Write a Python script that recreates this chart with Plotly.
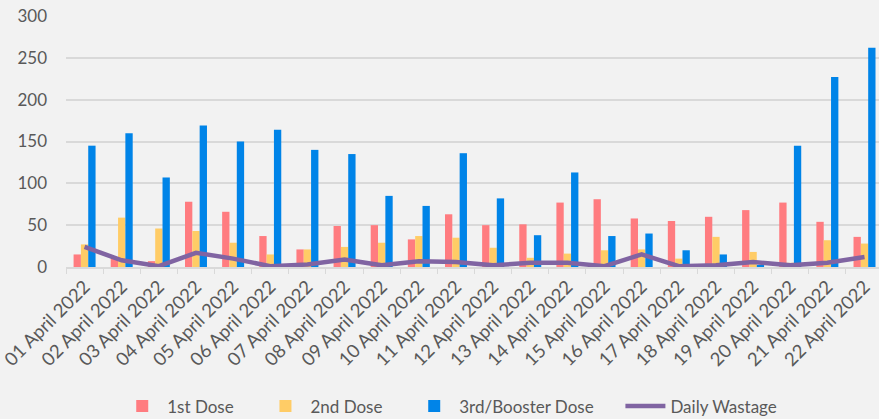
import plotly.graph_objects as go

dates = ["01 April 2022", "02 April 2022", "03 April 2022", "04 April 2022", "05 April 2022",
         "06 April 2022", "07 April 2022", "08 April 2022", "09 April 2022", "10 April 2022",
         "11 April 2022", "12 April 2022", "13 April 2022", "14 April 2022", "15 April 2022",
         "16 April 2022", "17 April 2022", "18 April 2022", "19 April 2022", "20 April 2022",
         "21 April 2022", "22 April 2022"]
dose1 = [15, 10, 7, 78, 66, 37, 21, 49, 50, 33, 63, 50, 51, 77, 81, 58, 55, 60, 68, 77, 54, 36]
dose2 = [27, 59, 46, 43, 29, 15, 21, 24, 29, 37, 35, 23, 11, 16, 20, 21, 10, 36, 18, 5, 32, 28]
dose3 = [145, 160, 107, 169, 150, 164, 140, 135, 85, 73, 136, 82, 38, 113, 37, 40, 20, 15, 2, 145, 227, 262]
wastage = [24, 8, 1, 17, 10, 1, 3, 9, 2, 7, 6, 2, 5, 5, 1, 15, 1, 2, 6, 2, 5, 12]

font_family = "Lato, 'Open Sans', sans-serif"
text_color = "#595959"
pad = "\u00a0" * 5

fig = go.Figure()
fig.add_trace(go.Bar(x=dates, y=dose1, name="1st Dose" + pad, marker=dict(color="#FF7C80", line=dict(width=0))))
fig.add_trace(go.Bar(x=dates, y=dose2, name="2nd Dose" + pad, marker=dict(color="#FFCC66", line=dict(width=0))))
fig.add_trace(go.Bar(x=dates, y=dose3, name="3rd/Booster Dose" + pad, marker=dict(color="#0084E8", line=dict(width=0))))
fig.add_trace(go.Scatter(x=dates, y=wastage, name="Daily Wastage", mode="lines",
                         line=dict(color="#8064A2", width=4.5)))

fig.update_layout(
    width=879, height=419,
    margin=dict(l=66, r=0, t=16, b=152),
    paper_bgcolor="#F2F2F2", plot_bgcolor="#F2F2F2",
    barmode="group", bargap=0.408, bargroupgap=0,
    font=dict(family=font_family, color=text_color, size=16),
    showlegend=True,
    legend=dict(orientation="h", x=0.472, xanchor="center", yref="container", y=0.03,
                yanchor="middle", font=dict(size=17, color=text_color), bgcolor="rgba(0,0,0,0)",
                itemwidth=40, traceorder="normal"),
    xaxis=dict(type="category", range=[-0.5, 21.39], tickangle=-45,
               showline=True, linecolor="#D9D9D9", linewidth=1.5,
               ticks="outside", tickson="boundaries", ticklen=5, tickcolor="#D9D9D9",
               showgrid=False, tickfont=dict(size=18.5, color=text_color)),
    yaxis=dict(range=[0, 300], dtick=50, showgrid=True, gridcolor="#D9D9D9", gridwidth=1.5,
               zeroline=False, showline=False, ticks="", ticklabelstandoff=18,
               tickfont=dict(size=17, color=text_color)),
)

fig.write_html("out.html", config={"displayModeBar": False},
               post_script="document.body.style.margin='0';document.body.style.overflow='hidden';")
